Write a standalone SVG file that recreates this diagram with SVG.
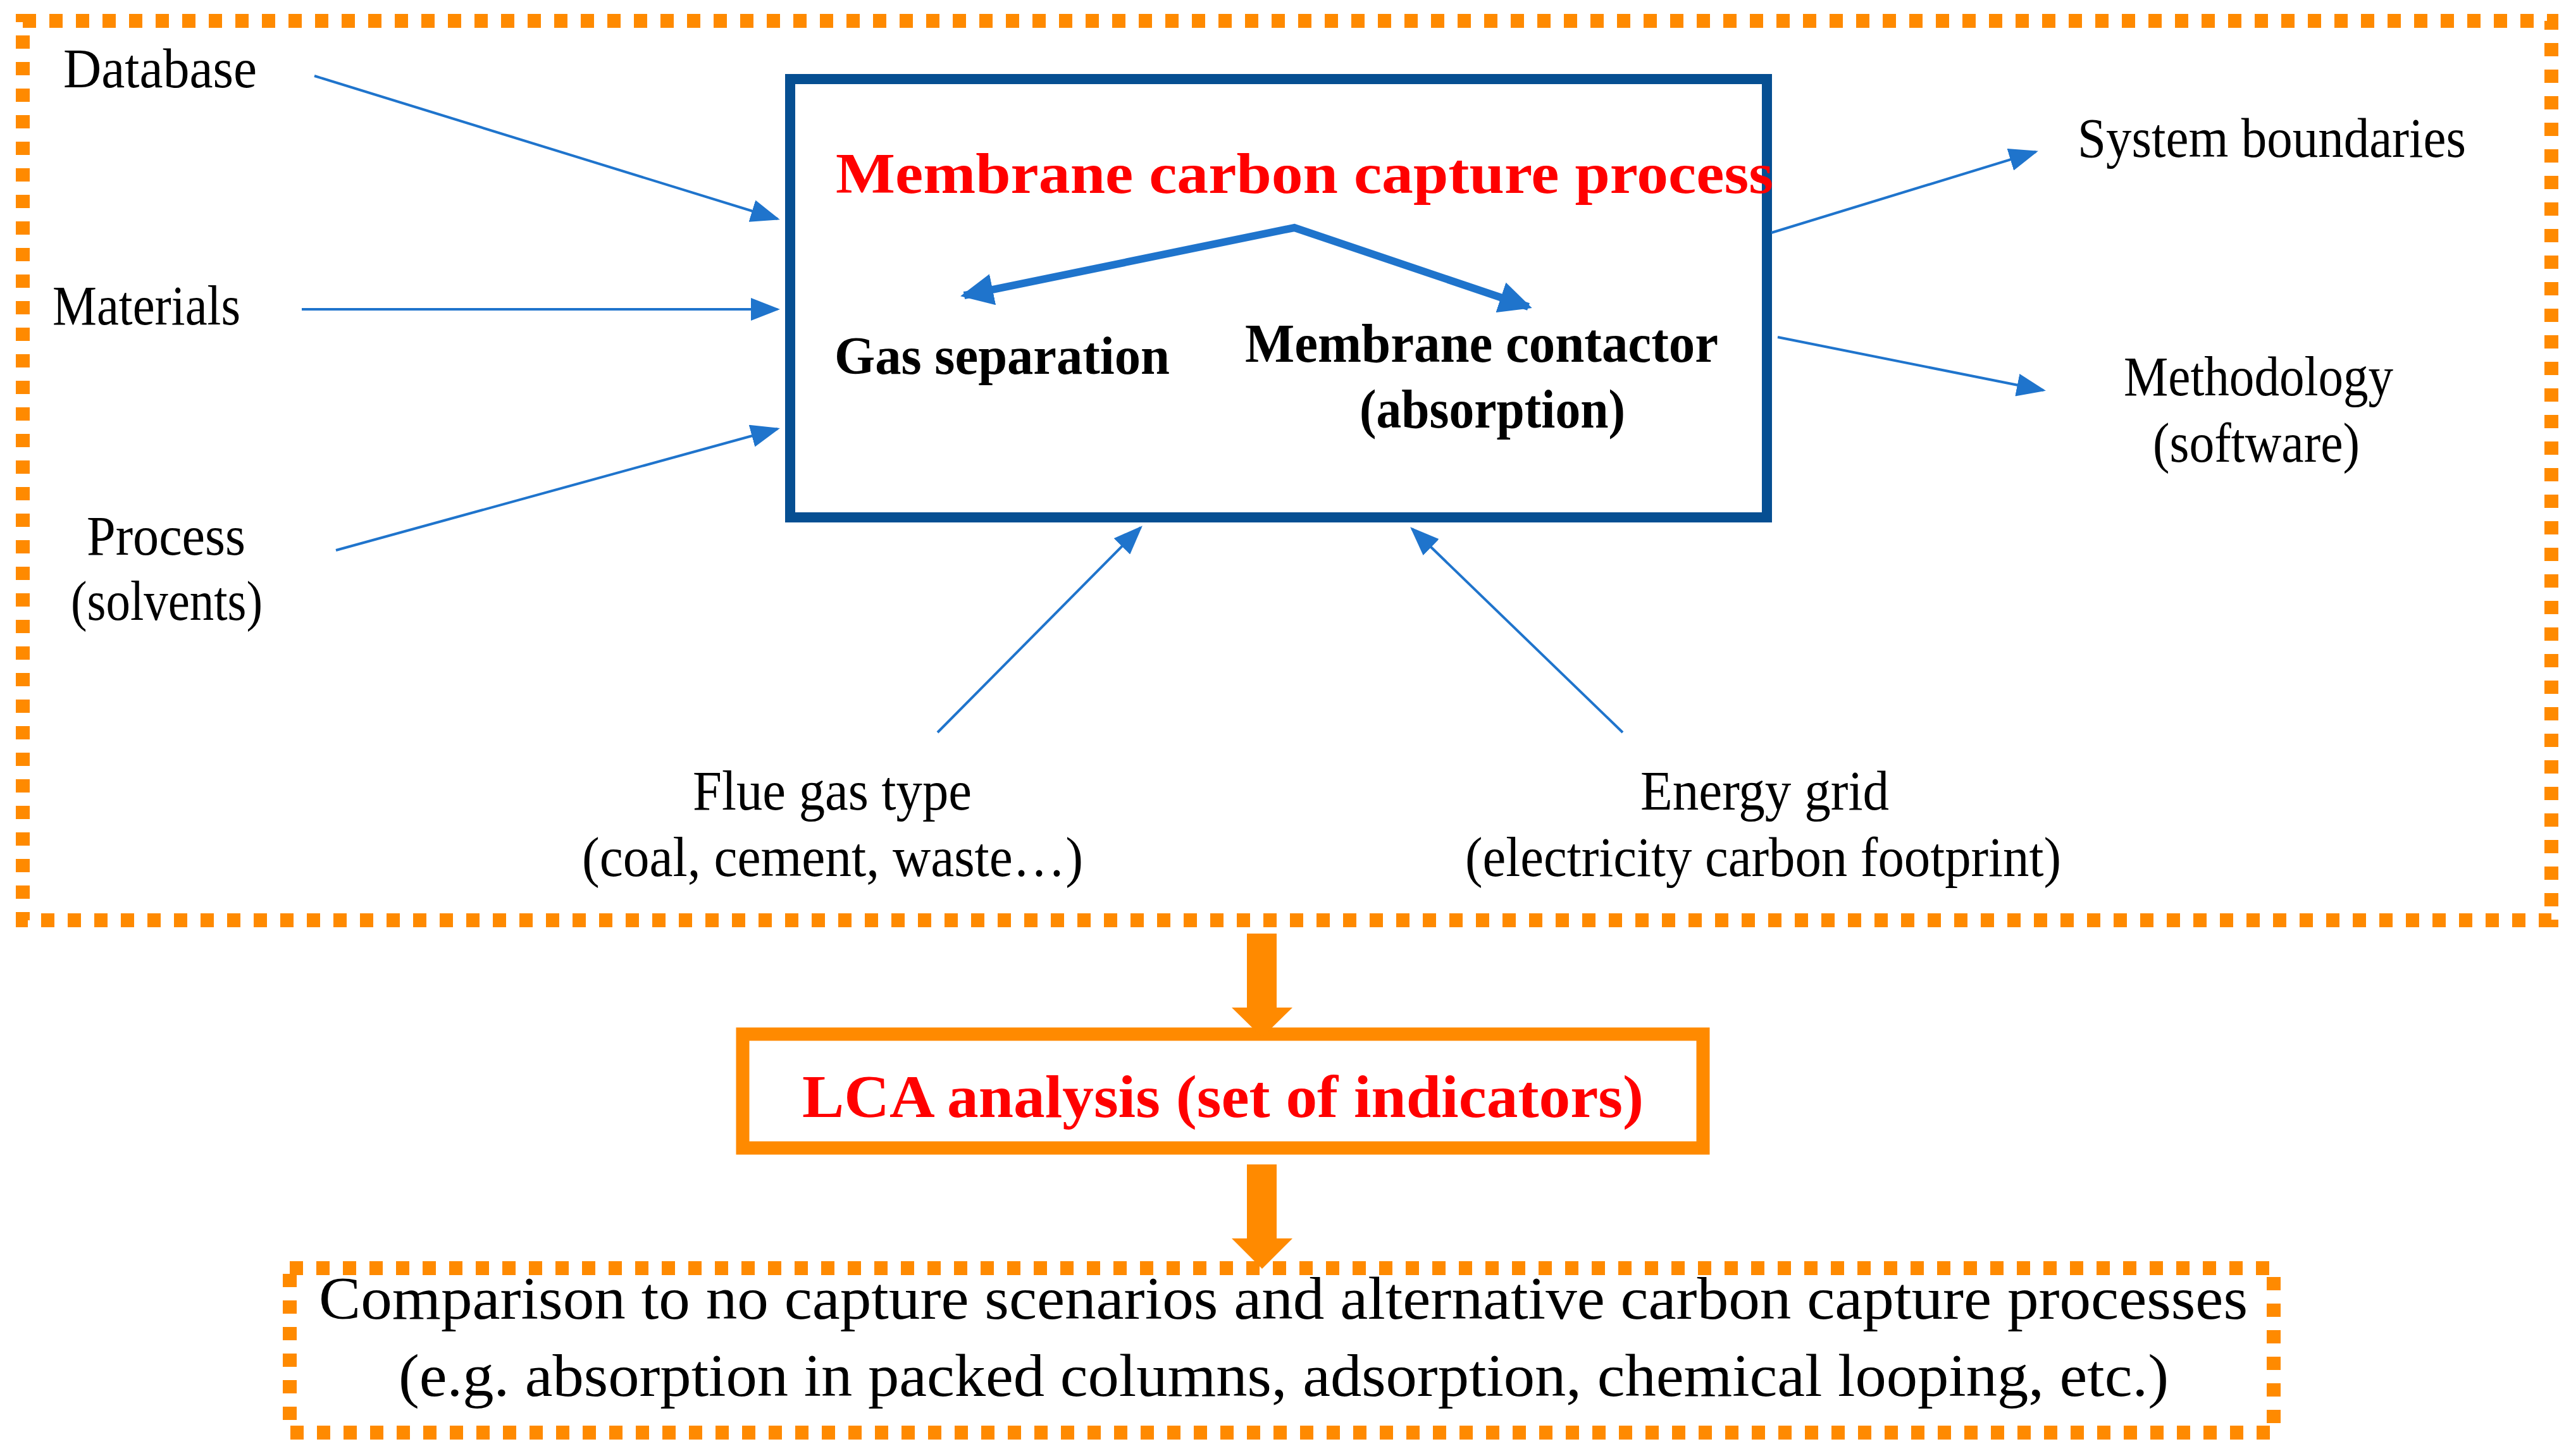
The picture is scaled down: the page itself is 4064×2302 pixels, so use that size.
<svg xmlns="http://www.w3.org/2000/svg" width="4064" height="2302" viewBox="0 0 4064 2302">
  <style>
    .t { font-family: "Liberation Serif", "Times New Roman", serif; fill: #000; }
    .lab { font-size: 88px; }
    .bold { font-weight: bold; }
    .red { fill: #FF0000; }
    .dot { fill: none; stroke: #FF8A00; stroke-width: 22; stroke-dasharray: 21 21; }
    .thin { fill: none; stroke: #1F74CC; stroke-width: 4; marker-end: url(#thinHead); }
    .thick { fill: none; stroke: #1F74CC; stroke-width: 12; }
    .orangeArrow { fill: #FF8A00; }
  </style>
  <defs>
    <marker id="thinHead" markerUnits="userSpaceOnUse" markerWidth="46" markerHeight="36" refX="42" refY="18" orient="auto">
      <path d="M0,0 L46,18 L0,36 Z" fill="#1F74CC"/>
    </marker>
    <marker id="thickHead" markerUnits="userSpaceOnUse" markerWidth="52" markerHeight="50" refX="46" refY="25" orient="auto-start-reverse">
      <path d="M0,0 L52,25 L0,50 Z" fill="#1F74CC"/>
    </marker>
  </defs>
  <rect width="4064" height="2302" fill="#FFFFFF"/>

  <g id="system-boundary">
    <rect class="dot" x="36" y="33" width="3997" height="1422"/>
  </g>

  <g id="process-box">
    <rect x="1249" y="125" width="1544" height="693" fill="#FFFFFF" stroke="#064F92" stroke-width="16"/>
    <text class="t bold red" x="1321" y="305" font-size="90" textLength="1482" lengthAdjust="spacingAndGlyphs">Membrane carbon capture process</text>
  </g>

  <g id="gas-separation">
    <text class="t bold" x="1319" y="591" font-size="84" textLength="530" lengthAdjust="spacingAndGlyphs">Gas separation</text>
  </g>

  <g id="membrane-contactor">
    <text class="t bold" x="1968" y="572" font-size="86" textLength="748" lengthAdjust="spacingAndGlyphs">Membrane contactor</text>
    <text class="t bold" x="2149" y="676" font-size="86" textLength="420" lengthAdjust="spacingAndGlyphs">(absorption)</text>
  </g>

  <g id="database">
    <text class="t lab" x="100" y="138" textLength="306" lengthAdjust="spacingAndGlyphs">Database</text>
  </g>
  <g id="materials">
    <text class="t lab" x="83" y="513" textLength="297" lengthAdjust="spacingAndGlyphs">Materials</text>
  </g>
  <g id="process">
    <text class="t lab" x="137" y="877" textLength="251" lengthAdjust="spacingAndGlyphs">Process</text>
    <text class="t lab" x="112" y="980" textLength="303" lengthAdjust="spacingAndGlyphs">(solvents)</text>
  </g>
  <g id="system-boundaries">
    <text class="t lab" x="3284" y="248" textLength="614" lengthAdjust="spacingAndGlyphs">System boundaries</text>
  </g>
  <g id="methodology">
    <text class="t lab" x="3357" y="625" textLength="426" lengthAdjust="spacingAndGlyphs">Methodology</text>
    <text class="t lab" x="3403" y="730" textLength="327" lengthAdjust="spacingAndGlyphs">(software)</text>
  </g>
  <g id="flue-gas">
    <text class="t lab" x="1095" y="1280" textLength="441" lengthAdjust="spacingAndGlyphs">Flue gas type</text>
    <text class="t lab" x="920" y="1385" textLength="792" lengthAdjust="spacingAndGlyphs">(coal, cement, waste…)</text>
  </g>
  <g id="energy-grid">
    <text class="t lab" x="2593" y="1280" textLength="393" lengthAdjust="spacingAndGlyphs">Energy grid</text>
    <text class="t lab" x="2316" y="1385" textLength="942" lengthAdjust="spacingAndGlyphs">(electricity carbon footprint)</text>
  </g>

  <g id="lca-analysis">
    <rect x="1174" y="1635" width="1518" height="180" fill="#FFFFFF" stroke="#FF8A00" stroke-width="21"/>
    <text class="t bold red" x="1268" y="1766" font-size="95" textLength="1330" lengthAdjust="spacingAndGlyphs">LCA analysis (set of indicators)</text>
  </g>

  <g id="comparison">
    <rect class="dot" x="458" y="2005" width="3136" height="260"/>
    <text class="t" x="504" y="2085" font-size="95" textLength="3049" lengthAdjust="spacingAndGlyphs">Comparison to no capture scenarios and alternative carbon capture processes</text>
    <text class="t" x="630" y="2207" font-size="95" textLength="2798" lengthAdjust="spacingAndGlyphs">(e.g. absorption in packed columns, adsorption, chemical looping, etc.)</text>
  </g>

  <g id="connectors">
    <line class="thin" x1="497" y1="120" x2="1229" y2="346"/>
    <line class="thin" x1="477" y1="489" x2="1229" y2="489"/>
    <line class="thin" x1="531" y1="870" x2="1229" y2="678"/>
    <line class="thin" x1="2800" y1="368" x2="3218" y2="240"/>
    <line class="thin" x1="2810" y1="533" x2="3230" y2="617"/>
    <line class="thin" x1="1482" y1="1158" x2="1803" y2="834"/>
    <line class="thin" x1="2565" y1="1158" x2="2232" y2="836"/>
    <path class="thick" d="M1524,467 L2046,360 L2416,485" marker-start="url(#thickHead)" marker-end="url(#thickHead)"/>
    <polygon class="orangeArrow" points="1971,1476 2018,1476 2018,1593 2043,1593 1995,1640 1947,1593 1971,1593"/>
    <polygon class="orangeArrow" points="1971,1841 2018,1841 2018,1958 2043,1958 1995,2006 1947,1958 1971,1958"/>
  </g>
</svg>
